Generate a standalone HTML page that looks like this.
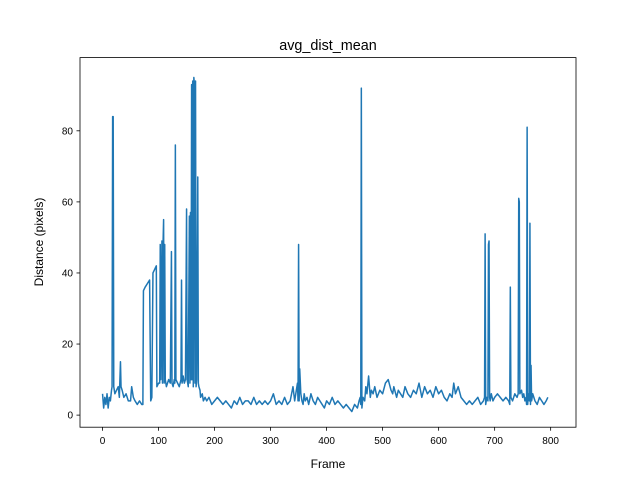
<!DOCTYPE html>
<html><head><meta charset="utf-8"><style>
body{margin:0;background:#fff;}
svg text{font-family:"Liberation Sans","DejaVu Sans",sans-serif;fill:#000;}
</style></head><body>
<svg id="chart" width="640" height="480" viewBox="0 0 640 480">
<rect x="0" y="0" width="640" height="480" fill="#fff"/>
<text x="328" y="50" font-size="14.4" text-anchor="middle">avg_dist_mean</text>
<g id="plot"></g>
<rect x="80" y="57.6" width="496" height="369.6" fill="none" stroke="#000" stroke-width="0.8"/>
<text x="328" y="468" font-size="12" text-anchor="middle">Frame</text>
<text x="0" y="0" font-size="12" text-anchor="middle" transform="translate(43,242) rotate(-90)">Distance (pixels)</text>
</svg>
<script>
const xTicks=[0,100,200,300,400,500,600,700,800];
const yTicks=[0,20,40,60,80];
const points=[
[0,6],[2,2],[4,5],[6,3],[8,6],[10,2],[12,5],[14,4],[16,7],[17,8],[18,84],[19,84],[20,8],[22,6],[25,7],[28,8],[30,5],[32,15],[33,8],[35,7],[38,5],[42,6],[46,4],[50,4],[52,8],[55,5],[58,4],[62,3],[66,4],[70,3],[72,3],
[73,35],[76,36],[80,37],[84,38],[86,4],[88,5],[90,40],[93,41],[96,42],[97,8],[100,9],[102,9],[103,48],[104,10],[106,49],[107,9],[108,48],[109,55],[110,9],[111,48],[112,10],[114,8],[116,9],[118,10],[121,9],[123,46],[124,9],[126,8],[128,10],[129,9],[130,76],[131,10],[134,9],[137,8],[140,10],[141,38],[142,9],[144,11],
[146,9],[148,10],[150,58],[151,10],[153,8],[155,56],[156,9],[157,57],[158,10],[159,93],[160,10],[161,94],[162,8],[163,95],[164,93],[165,9],[166,94],[167,8],[168,10],[170,67],[171,9],[172,8],[174,7],[175,5],[178,6],[180,4],[183,5],[186,4],
[190,5],[195,3],[200,4],[205,5],[210,4],[215,3],[220,4],[225,3],[230,2],[235,4],[240,3],[245,5],[250,3],[255,4],[260,4],[265,3],[270,5],[275,3],[280,4],[285,3],[290,4],[295,3],[300,4],[305,6],[310,3],[315,4],[320,3],[325,5],[330,3],[335,4],[340,8],[343,4],[345,6],[348,9],
[349,4],[350,48],[351,4],[352,13],[354,6],[356,4],[358,3],[360,6],[362,4],[365,5],[368,3],[372,6],[376,4],[380,3],[384,5],[388,4],[392,3],[396,2],[400,4],[405,3],[410,5],[415,3],[420,4],[425,3],[430,2],[435,3],[440,2],[445,1],[450,3],[455,2],[458,4],[460,5],
[461,3],[462,92],[463,2],[465,5],[468,4],[470,8],[472,6],[475,11],[478,5],[480,7],[483,6],[486,8],[490,5],[495,7],[500,6],[505,9],[510,10],[515,7],[518,6],[520,8],[525,5],[528,7],[532,6],[536,5],[540,8],[545,6],[550,5],[555,7],[560,6],[565,9],[570,5],[575,8],[580,6],[585,7],[590,5],[595,8],[600,6],[605,7],[610,5],[615,4],[620,6],[624,5],[627,9],[630,6],[635,8],[640,5],[645,4],[650,3],[655,4],[660,3],[665,4],[670,5],[675,3],[680,4],
[682,5],[683,51],[684,3],[686,5],[688,4],[689,48],[690,49],[691,5],[692,4],[694,6],[697,4],[700,5],[705,6],[710,5],[715,4],[720,5],[725,4],[727,3],[728,36],[729,5],[732,4],[736,6],[740,5],[742,6],[743,61],[744,60],[745,6],[748,7],[750,5],[752,6],[754,4],[756,5],[757,3],[758,81],[759,3],[760,6],[762,4],[763,54],[764,3],[765,14],[766,4],[768,6],[770,5],[772,4],[776,3],[780,5],[784,4],[788,3],[792,4],[795,5]
];
const frames=points.map(p=>p[0]);
const values=points.map(p=>p[1]);
const X0=80,X1=576,Y0=57.6,Y1=427.2,xmin=-40.25,xmax=845.25,ymin=-3.4,ymax=100.6;
const xs=v=>X0+(v-xmin)/(xmax-xmin)*(X1-X0);
const ys=v=>Y1-(v-ymin)/(ymax-ymin)*(Y1-Y0);
const NS='http://www.w3.org/2000/svg';
const g=document.getElementById('plot');
function mk(t,a){const e=document.createElementNS(NS,t);for(const k in a)e.setAttribute(k,a[k]);g.appendChild(e);return e;}
xTicks.forEach(t=>{
  const l=mk('line',{x1:xs(t),x2:xs(t),y1:Y1,y2:Y1+3.5,stroke:'#000','stroke-width':0.8});
  
  
  const tx=mk('text',{x:xs(t),y:Y1+17,'font-size':10,'text-anchor':'middle'});
  tx.textContent=t;
  
  
});
yTicks.forEach(t=>{
  const l=mk('line',{x1:X0-3.5,x2:X0,y1:ys(t),y2:ys(t),stroke:'#000','stroke-width':0.8});
  
  
  const tx=mk('text',{x:X0-7,y:ys(t)+3.5,'font-size':10,'text-anchor':'end'});
  tx.textContent=t;
  
  
});
const d=frames.map((f,i)=>(i?'L':'M')+xs(f).toFixed(2)+','+ys(values[i]).toFixed(2)).join('');
const p=mk('path',{d:d,fill:'none',stroke:'#1f77b4','stroke-width':1.5,'stroke-linejoin':'round'});


</script>
</body></html>
